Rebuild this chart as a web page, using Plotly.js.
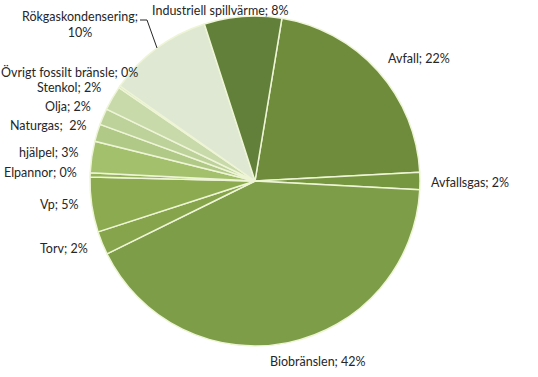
<!DOCTYPE html>
<html>
<head>
<meta charset="utf-8">
<script src="https://cdn.plot.ly/plotly-3.0.1.min.js"></script>
<style>html,body{margin:0;padding:0;background:#fff;}#chart{width:538px;height:377px;}</style>
</head>
<body>
<div id="chart"></div>
<script>
// Data (shares in %), clockwise from the first slice
const categories = ["Avfall", "Avfallsgas", "Biobränslen", "Torv", "Vp", "Elpannor", "hjälpel",
  "Naturgas", "Olja", "Stenkol", "Övrigt fossilt bränsle", "Rökgaskondensering", "Industriell spillvärme"];
const shares = [21.6, 1.7, 42.0, 2.3, 5.4, 0.4, 3.1, 1.7, 1.6, 2.4, 0.2, 10.3, 7.6];
const labelPercent = ["22%", "2%", "42%", "2%", "5%", "0%", "3%", " 2%", "2%", "2%", "0%", "10%", "8%"];
const sliceColors = ["#6e8c3c", "#779640", "#7e9d48", "#85a44b", "#8cab50", "#95b35b", "#a3c06d",
  "#b0c987", "#bdd29b", "#c8d9aa", "#d4e1bd", "#dfe8d2", "#62803a"];

const W = 538, H = 377;
// label anchor positions in pixels (layout only)
const labelPos = [
  [419, 58], [470, 182], [318, 361], [64, 248], [59, 205], [40, 172], [48, 152],
  [48, 125], [68, 106], [69, 87], [69, 72], [80, 24], [220, 10]
];
const px = x => x / W, py = y => 1 - y / H;

const annotations = categories.map((c, i) => {
  const sep = (c === "Rökgaskondensering") ? ";<br>" : "; ";
  return {
    text: c + sep + labelPercent[i],
    x: px(labelPos[i][0]), y: py(labelPos[i][1]),
    xref: "paper", yref: "paper", xanchor: "center", yanchor: "middle",
    showarrow: false, align: "center", borderpad: 0,
    font: {family: "Lato, 'Open Sans', sans-serif", size: 12.5, color: "#262626"}
  };
});

const data = [{
  type: "pie",
  labels: categories,
  values: shares,
  sort: false,
  direction: "clockwise",
  rotation: 9.4,
  textinfo: "none",
  hoverinfo: "label+percent",
  marker: {colors: sliceColors, line: {color: "#eef5d6", width: 1.5}},
  domain: {x: [px(90), px(420)], y: [py(346), py(16)]},
  showlegend: false
}];

const layout = {
  width: W, height: H,
  margin: {l: 0, r: 0, t: 0, b: 0},
  paper_bgcolor: "#ffffff",
  showlegend: false,
  annotations: annotations,
  shapes: [{
    type: "path", xref: "paper", yref: "paper",
    path: "M " + px(140) + "," + py(20) + " L " + px(147) + "," + py(20) + " L " + px(157) + "," + py(48),
    line: {color: "#262626", width: 1}
  }]
};

Plotly.newPlot("chart", data, layout, {displayModeBar: false, staticPlot: true});
</script>
</body>
</html>
